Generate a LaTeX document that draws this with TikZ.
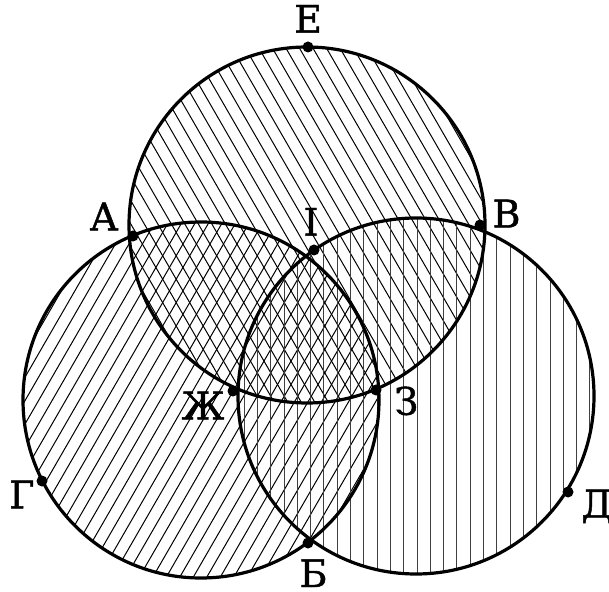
\documentclass[tikz,border=0pt]{standalone}
\usepackage{fontspec}
\setmainfont{DejaVu Serif}
\newfontfamily\lblfont{DejaVu Serif}[FakeBold=1.2]
\usetikzlibrary{positioning}

\tikzset{
  pt/.style={circle, fill=black, inner sep=0pt, minimum size=5.5pt},
  lbl/.style={inner sep=0pt, text depth=0pt, font=\lblfont\fontsize{19}{22}\selectfont},
  rim/.style={line width=1.6pt},
  hatch/.style={line width=0.5pt},
  vhatch/.style={line width=0.5pt, black!75}
}

\begin{document}
\begin{tikzpicture}[x=0.5pt, y=-0.5pt, node distance=4pt]
        \useasboundingbox (0,0) rectangle (609,592);
        \coordinate (cT) at (307,225);
        \coordinate (cL) at (201,400);
        \coordinate (cR) at (416,396);

        % hatching of the three discs
        \begin{scope}[shift={(cT)}, rotate=30]
            \clip (0,0) circle (178);
            \foreach \k in {-16,...,16}
                \draw[hatch] (\k*11.7,-200) -- (\k*11.7,200);
        \end{scope}
        \begin{scope}[shift={(cL)}, rotate=-30]
            \clip (0,0) circle (178);
            \foreach \k in {-16,...,16}
                \draw[hatch] (\k*11.7,-200) -- (\k*11.7,200);
        \end{scope}
        \begin{scope}[shift={(cR)}]
            \clip (0,0) circle (178);
            \foreach \k in {-14,...,14}
                \draw[vhatch] (\k*13.3+1,-200) -- (\k*13.3+1,200);
        \end{scope}

        \draw[rim] (cT) circle (178);
        \draw[rim] (cL) circle (178);
        \draw[rim] (cR) circle (178);

        \node[pt] (E) at (308,47) {};
        \node[pt] (A) at (133,236) {};
        \node[pt] (V) at (480,225) {};
        \node[pt] (I) at (314,250) {};
        \node[pt] (Zh) at (233,391) {};
        \node[pt] (Z) at (376,390) {};
        \node[pt] (G) at (42,481) {};
        \node[pt] (D) at (568,492) {};
        \node[pt] (B) at (308,543) {};

        \node[lbl] (lE) [above=4pt of E] {Е};
        \node[lbl] (lA) [above left=0.5pt and 5pt of A] {А};
        \node[lbl] (lV) [above right=-3.5pt and 4pt of V] {В};
        \node[lbl] (lI) [above=4pt of I, xshift=-1.5pt] {І};
        \node[lbl] (lZh) [below left=-2pt and 2pt of Zh] {Ж};
        \node[lbl] (lZ) [below right=-4pt and 7pt of Z] {З};
        \node[lbl] (lG) [below left=-2.5pt and 1.5pt of G] {Г};
        \node[lbl] (lD) [below right=-3.5pt and 4.5pt of D] {Д};
        \node[lbl] (lB) [below=5pt of B, xshift=2.75pt] {Б};
\end{tikzpicture}
\end{document}
